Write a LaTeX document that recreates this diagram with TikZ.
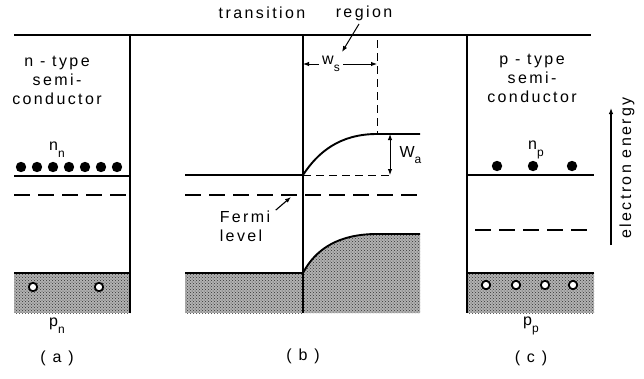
\documentclass[tikz,border=0pt]{standalone}
\usepackage{fontspec}
\setmainfont{Liberation Sans}[LetterSpace=15]
\usetikzlibrary{arrows.meta,patterns}

\newcommand{\subtxt}[1]{\raisebox{-0.8ex}{\fontsize{12}{12}\selectfont #1}}

\begin{document}
\begin{tikzpicture}[
    x=1pt,y=-1pt,
    >={Latex[length=6pt,width=4.5pt]},
    band/.style={line width=1.5pt},
    bentband/.style={line width=1.9pt},
    fermi/.style={line width=1.5pt,dash pattern=on 16pt off 8pt},
    fine/.style={line width=0.9pt,dash pattern=on 8pt off 5pt},
    shade/.style={fill=black!30,postaction={pattern=crosshatch dots,pattern color=black!80}},
    elec/.style={fill=black},
    hole/.style={draw,fill=white,line width=1.8pt},
    lbl/.style={font=\fontsize{16}{19}\selectfont,align=center},
]
\useasboundingbox (0,0) rectangle (644,378);

% Corner points
\coordinate (atop) at (130,35);  \coordinate (abot) at (130,313);
\coordinate (btop) at (303,35);  \coordinate (bbot) at (303,313);
\coordinate (ctop) at (467,35);  \coordinate (cbot) at (467,313);
\coordinate (wstop) at (377,40); \coordinate (wsbot) at (377,134);

% Valence bands (shaded)
\fill[shade] (14,273) rectangle (130,313);
\fill[shade] (185,273) rectangle (303,313);
\fill[shade] (303,313) -- (303,273) .. controls (316,248) and (340,234) .. (377,234)
    -- (420,234) -- (420,313) -- cycle;
\fill[shade] (467,273) rectangle (594,313);

% Top line and panel walls
\draw[band] (14,35) -- (591,35);
\draw[band] (atop) -- (abot);
\draw[band] (btop) -- (bbot);
\draw[band] (ctop) -- (cbot);

% (a) n-type
\draw[band] (14,176) -- (atop |- 0,176);
\draw[fermi] (14,195) -- (atop |- 0,195);
\draw[band] (14,273) -- (atop |- 0,273);
\foreach \x in {21,37,53,69,85,101,117}
    \fill[elec] (\x,167) circle (5.2pt);
\foreach \x in {33,99}
    \draw[hole] (\x,287) circle (4.2pt);
\node[lbl] (ntype) at (57,80) {n - type\\semi-\\conductor};
\node[lbl] (nn) at (57,150) {n\subtxt{n}};
\node[lbl] (pn) at (57,326) {p\subtxt{n}};
\node[lbl] (capa) at (57,358) {( a )};

% (b) junction
\draw[band] (185,175) -- (btop |- 0,175);
\draw[fermi] (185,195) -- (420,195);
\draw[band] (185,273) -- (btop |- 0,273);
\draw[bentband] (303,175) .. controls (318,152) and (340,134) .. (377,134) -- (420,134);
\draw[bentband] (303,273) .. controls (316,248) and (340,234) .. (377,234) -- (420,234);
\draw[fine] (303,175) -- (392,175);
\draw[fine] (wstop) -- (wsbot);
\node[lbl] (trans) at (262,13) {transition};
\node[lbl] (reg) at (364,13) {region};
\coordinate (regtip) at (342,52);
\draw[->,line width=1pt] ([xshift=-5pt]reg.south) -- (regtip);
\node[lbl] (ws) at (331,64) {w\subtxt{s}};
\draw[->,line width=1pt] (ws.west) -- (ws.west -| btop);
\draw[->,line width=1pt] (ws.east) -- (ws.east -| wstop);
\coordinate (watop) at (390,134); \coordinate (wabot) at (390,175);
\draw[<->,line width=1pt] (watop) -- (wabot);
\node[lbl,anchor=west] (wa) at (396,155) {W\subtxt{a}};
\node[lbl,align=left] (flevel) at (245,226) {Fermi\\level};
\coordinate (ftip) at (291,197);
\draw[->,line width=1.1pt] ([xshift=2pt,yshift=-3pt]flevel.north east) -- (ftip);
\node[lbl] (capb) at (303,356) {( b )};

% (c) p-type
\draw[band] (ctop |- 0,175) -- (594,175);
\draw[fermi] (475,230) -- (594,230);
\draw[band] (ctop |- 0,273) -- (594,273);
\foreach \x in {497,533,572}
    \fill[elec] (\x,166) circle (5.2pt);
\foreach \x in {486,516,545,573}
    \draw[hole] (\x,285) circle (4.2pt);
\node[lbl] (ptype) at (532,78) {p - type\\semi-\\conductor};
\node[lbl] (np) at (536,150) {n\subtxt{p}};
\node[lbl] (pp) at (531,326) {p\subtxt{p}};
\node[lbl] (capc) at (531,358) {( c )};

% Energy axis
\coordinate (ebot) at (611,245); \coordinate (etop) at (611,108);
\draw[->,line width=1.1pt] (ebot) -- (etop);
\node[lbl,rotate=90] (energy) at (627,168) {electron energy};
\end{tikzpicture}
\end{document}
